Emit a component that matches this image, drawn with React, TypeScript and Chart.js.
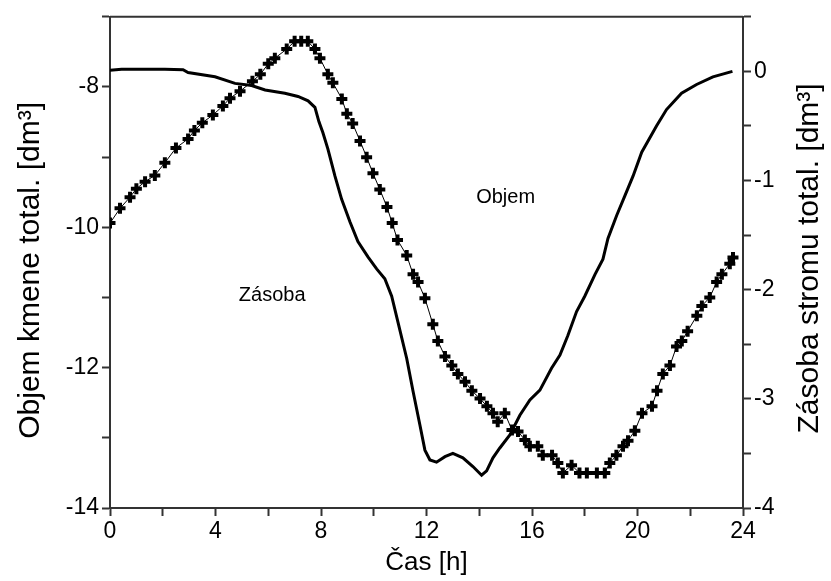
import React, { useEffect, useRef } from "react";
import { Chart, registerables } from "chart.js";

Chart.register(...registerables);

// Objem kmene (left axis), cross markers
const objemHours = [0, 0.38, 0.76, 1.0, 1.33, 1.7, 2.08, 2.5, 2.96, 3.2, 3.5, 3.9, 4.28, 4.55, 4.93, 5.4, 5.7, 6.0, 6.25, 6.7, 7.0, 7.25, 7.5, 7.77, 7.96, 8.26, 8.45, 8.79, 8.98, 9.2, 9.48, 9.73, 9.97, 10.23, 10.5, 10.7, 10.9, 11.25, 11.49, 11.68, 11.94, 12.24, 12.43, 12.7, 12.96, 13.19, 13.46, 13.72, 14.03, 14.29, 14.52, 14.7, 14.97, 15.24, 15.47, 15.73, 15.92, 16.22, 16.41, 16.76, 16.98, 17.17, 17.5, 17.8, 18.08, 18.46, 18.76, 18.95, 19.2, 19.45, 19.64, 19.9, 20.17, 20.55, 20.74, 20.96, 21.23, 21.48, 21.68, 21.9, 22.25, 22.44, 22.74, 23.0, 23.2, 23.5, 23.62];
const objemValues = [-9.94, -9.73, -9.57, -9.45, -9.35, -9.26, -9.08, -8.87, -8.74, -8.62, -8.51, -8.4, -8.27, -8.16, -8.06, -7.92, -7.82, -7.67, -7.59, -7.46, -7.35, -7.35, -7.35, -7.46, -7.59, -7.82, -7.94, -8.17, -8.38, -8.52, -8.77, -9.0, -9.23, -9.46, -9.71, -9.94, -10.18, -10.4, -10.67, -10.78, -11.01, -11.38, -11.62, -11.84, -11.97, -12.09, -12.2, -12.33, -12.44, -12.55, -12.65, -12.77, -12.65, -12.89, -12.91, -13.03, -13.12, -13.12, -13.25, -13.25, -13.36, -13.5, -13.39, -13.5, -13.5, -13.5, -13.5, -13.36, -13.25, -13.12, -13.04, -12.9, -12.65, -12.55, -12.33, -12.09, -11.97, -11.7, -11.62, -11.48, -11.26, -11.12, -11.0, -10.78, -10.67, -10.52, -10.43];

// Zásoba stromu (right axis), solid line
const zasobaHours = [0, 0.44, 2.08, 2.77, 2.96, 3.98, 4.74, 5.37, 5.88, 6.63, 7.13, 7.51, 7.77, 7.92, 8.07, 8.26, 8.53, 8.78, 9.1, 9.4, 9.78, 10.11, 10.42, 10.68, 10.92, 11.25, 11.49, 11.75, 11.94, 12.13, 12.38, 12.7, 13.0, 13.38, 13.76, 14.09, 14.28, 14.52, 14.78, 15.16, 15.54, 15.92, 16.3, 16.74, 17.06, 17.36, 17.69, 18.0, 18.39, 18.69, 18.88, 19.21, 19.52, 19.83, 20.16, 20.72, 21.1, 21.67, 22.24, 22.86, 23.6];
const zasobaValues = [0.01, 0.02, 0.02, 0.015, -0.01, -0.05, -0.11, -0.13, -0.17, -0.2, -0.23, -0.27, -0.33, -0.46, -0.56, -0.71, -0.96, -1.17, -1.38, -1.56, -1.7, -1.81, -1.9, -2.06, -2.3, -2.63, -2.93, -3.24, -3.47, -3.56, -3.58, -3.53, -3.5, -3.54, -3.62, -3.7, -3.66, -3.54, -3.45, -3.33, -3.15, -3.01, -2.92, -2.72, -2.6, -2.42, -2.2, -2.06, -1.86, -1.72, -1.53, -1.32, -1.14, -0.96, -0.74, -0.5, -0.35, -0.2, -0.12, -0.05, 0.0];

const xTitle = "Čas [h]";
const leftTitle = "Objem kmene total. [dm³]";
const rightTitle = "Zásoba stromu total. [dm³]";
const objemLabel = "Objem";
const zasobaLabel = "Zásoba";

const FONT = '"Liberation Sans", Arial, Helvetica, sans-serif';
const AXIS_COLOR = "#333";

const textPlugin = {
  id: "customTexts",
  afterDraw(chart: any) {
    const { ctx, chartArea } = chart;
    const xs = chart.scales.x;
    const yL = chart.scales.yL;
    ctx.save();
    ctx.fillStyle = "#000";
    ctx.textAlign = "center";
    ctx.textBaseline = "middle";
    const cx = (chartArea.left + chartArea.right) / 2;
    const cy = (chartArea.top + chartArea.bottom) / 2;
    // axis titles
    ctx.font = `26px ${FONT}`;
    ctx.fillText(xTitle, cx, 563);
    ctx.font = `30px ${FONT}`;
    ctx.save();
    ctx.translate(31, cy + 8);
    ctx.rotate(-Math.PI / 2);
    ctx.fillText(leftTitle, 0, 0);
    ctx.restore();
    ctx.save();
    ctx.translate(810, cy - 4);
    ctx.rotate(-Math.PI / 2);
    ctx.fillText(rightTitle, 0, 0);
    ctx.restore();
    // series annotations
    ctx.font = `20px ${FONT}`;
    ctx.fillText(objemLabel, xs.getPixelForValue(15.0), yL.getPixelForValue(-9.57));
    ctx.fillText(zasobaLabel, xs.getPixelForValue(6.15), yL.getPixelForValue(-10.97));
    // top frame line
    ctx.strokeStyle = AXIS_COLOR;
    ctx.lineWidth = 2;
    ctx.beginPath();
    ctx.moveTo(chartArea.left, chartArea.top);
    ctx.lineTo(chartArea.right, chartArea.top);
    ctx.stroke();
    ctx.restore();
  },
};

export default function App() {
  const ref = useRef<HTMLCanvasElement | null>(null);

  useEffect(() => {
    if (!ref.current) return;
    const objemData = objemHours.map((h, i) => ({ x: h, y: objemValues[i] }));
    const zasobaData = zasobaHours.map((h, i) => ({ x: h, y: zasobaValues[i] }));

    const grid = {
      display: true,
      drawOnChartArea: false,
      drawTicks: true,
      tickLength: 8,
      tickWidth: 2,
      color: AXIS_COLOR,
    };
    const border = { display: true, color: AXIS_COLOR, width: 2 };
    const tickFont = { family: FONT, size: 23 };

    const chart = new Chart(ref.current, {
      type: "line",
      data: {
        datasets: [
          {
            label: objemLabel,
            data: objemData,
            yAxisID: "yL",
            borderColor: "#000",
            borderWidth: 1,
            pointStyle: "cross",
            pointRadius: 5.5,
            pointBorderWidth: 4,
            pointBorderColor: "#000",
            pointBackgroundColor: "#000",
            tension: 0,
            fill: false,
          },
          {
            label: zasobaLabel,
            data: zasobaData,
            yAxisID: "yR",
            borderColor: "#000",
            borderWidth: 3,
            pointRadius: 0,
            tension: 0,
            fill: false,
          },
        ],
      },
      options: {
        responsive: false,
        animation: false,
        events: [],
        layout: { padding: { top: 14, left: 0, right: 0, bottom: 0 } },
        plugins: { legend: { display: false }, tooltip: { enabled: false } },
        scales: {
          x: {
            type: "linear",
            min: 0,
            max: 24,
            grid,
            border,
            ticks: {
              stepSize: 2,
              autoSkip: false,
              maxRotation: 0,
              color: "#000",
              font: tickFont,
              padding: 2,
              callback: (v: any) => (Math.round(v) % 4 === 0 ? String(v) : ""),
            },
            afterFit: (s: any) => {
              s.height = 73;
            },
          },
          yL: {
            type: "linear",
            position: "left",
            min: -14,
            max: -7,
            grid,
            border,
            ticks: {
              stepSize: 1,
              autoSkip: false,
              color: "#000",
              font: tickFont,
              padding: 3,
              callback: (v: any) => (Math.round(v) % 2 === 0 ? String(v) : ""),
            },
            afterFit: (s: any) => {
              s.width = 110;
            },
          },
          yR: {
            type: "linear",
            position: "right",
            min: -4,
            max: 0.5,
            grid,
            border,
            ticks: {
              stepSize: 0.5,
              autoSkip: false,
              color: "#000",
              font: tickFont,
              padding: 3,
              callback: (v: any) => (Number.isInteger(v) ? String(v) : ""),
            },
            afterFit: (s: any) => {
              s.width = 88;
            },
          },
        },
      },
      plugins: [textPlugin],
    } as any);

    return () => chart.destroy();
  }, []);

  return (
    <div style={{ position: "fixed", left: 0, top: 0, width: 831, height: 581, background: "#fff" }}>
      <canvas ref={ref} width={831} height={581} style={{ display: "block" }} />
    </div>
  );
}
